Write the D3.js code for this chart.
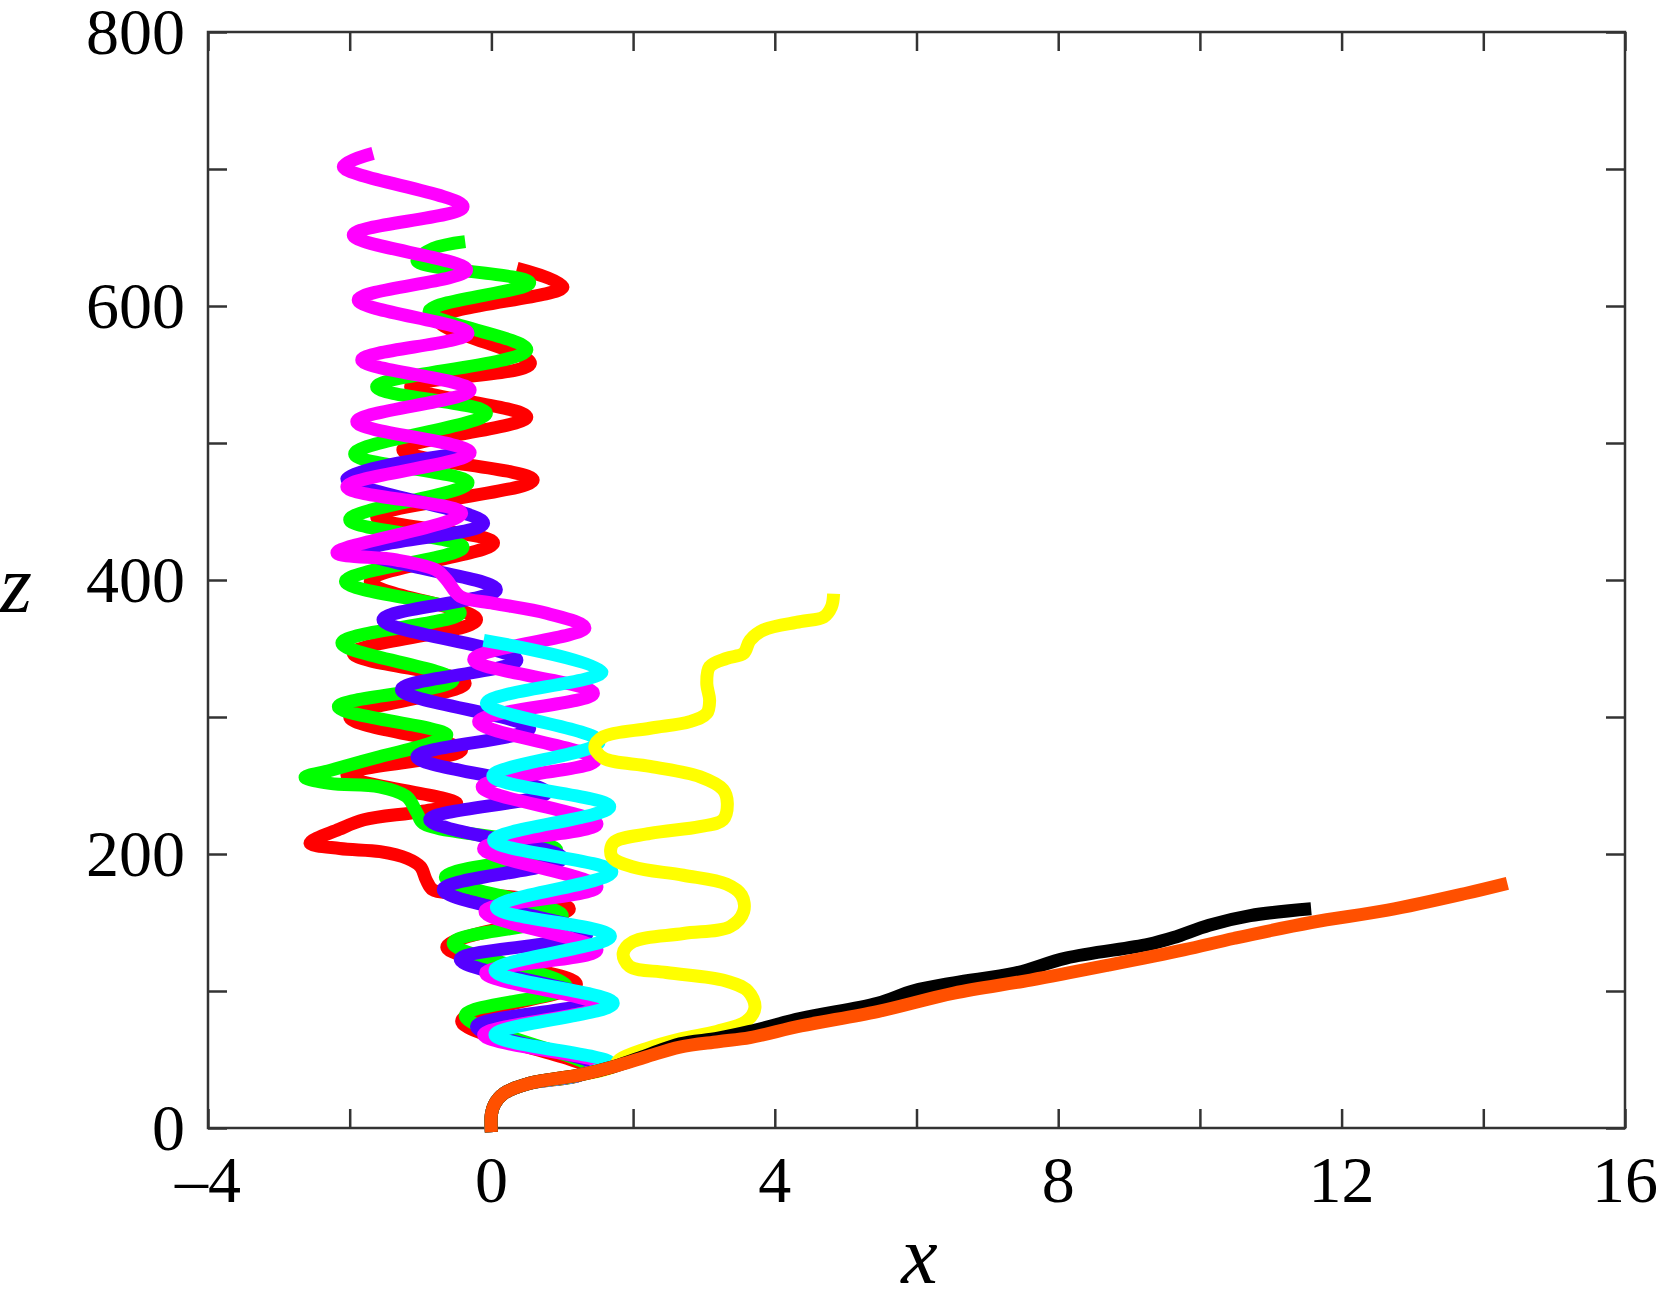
<!DOCTYPE html>
<html><head><meta charset="utf-8">
<script src="https://cdn.jsdelivr.net/npm/d3@7"></script>
<style>html,body{margin:0;padding:0;background:#fff;}svg{display:block;}</style>
</head><body>
<svg id="chart" width="1660" height="1303"></svg>
<script>
// ---- data (x, z) ----
const basePath = [[0,-3],[0,10],[0.04,17],[0.17,25],[0.54,32.6],[1.25,38.7]];

const redPts = [[1.35,44],[-0.42,78],[1.2,105],[-0.63,132],[1.1,160],[0.03,170],[-0.54,171.3],[-0.83,174],[-0.92,181],[-1.0,190.7],[-1.19,196.8],[-1.57,201.7],[-2.14,204],[-2.56,208],[-2.15,218],[-1.8,225],[-1.0,231],[-0.49,237],[-2.04,257.7],[-0.42,276],[-2.0,300],[-0.37,324.6],[-1.95,346.5],[-0.21,371],[-1.71,399],[0.03,427],[-1.62,446],[0.59,473],[-1.25,495],[0.5,519],[-1.14,541],[0.55,558],[-0.75,590],[1.01,614],[0.36,627.5]];

const greenPts = [[1.4,44.5],[-0.37,82],[1.06,103],[-0.54,135],[1.0,155],[-0.65,183],[0.92,203],[-0.96,222.4],[-1.05,230],[-1.2,242],[-1.58,249],[-2.28,251.6],[-2.63,256],[-2.28,261],[-1.58,271],[-0.87,280.7],[-0.63,287],[-2.16,307.5],[-0.54,327],[-2.11,354],[-0.44,376],[-2.06,399],[-0.4,424],[-2.0,444],[-0.33,471],[-1.93,492],[-0.07,521.7],[-1.62,541],[0.5,568],[-0.88,596],[0.54,617],[-1.05,633],[-0.82,642],[-0.37,647]];

const bluePts = [[1.5,45.5],[-0.21,74],[1.44,93.4],[-0.44,123],[1.35,142],[-0.68,174],[1.0,197],[-0.87,225],[0.78,245],[-1.05,271],[0.54,291.7],[-1.27,320],[0.36,341.6],[-1.53,371],[0.07,393],[-1.76,421],[-0.11,441.4],[-2.04,474],[-0.45,492]];

const magentaPts = [[1.6,46.5],[-0.11,68],[1.51,89],[-0.08,113],[1.49,130],[-0.09,158],[1.49,176],[-0.11,204],[1.49,222],[-0.13,249],[1.47,268.6],[-0.18,296.5],[1.44,317.3],[-0.25,342],[1.32,365],[0.78,375.7],[0.03,383],[-0.44,388],[-0.63,400],[-0.77,407],[-1.34,414.6],[-2.18,420],[-0.42,448.7],[-2.04,468],[-0.3,493],[-1.9,515.6],[-0.3,538.7],[-1.83,560.6],[-0.33,580],[-1.88,604.4],[-0.35,626.3],[-1.95,651.8],[-0.4,672.5],[-2.09,701.7],[-1.67,711.4]];

const cyanPts = [[1.68,47.5],[0.05,68],[1.72,91],[0.05,115],[1.68,140],[0.07,161],[1.7,187],[0.03,210],[1.67,234.5],[0.02,257],[1.52,282],[-0.07,310],[1.56,333],[-0.11,356]];

const yellowPts = [[1.72,44.7],[1.81,50],[2.19,58],[2.66,65],[3.18,70.5],[3.6,78],[3.72,88],[3.62,100],[3.3,107.5],[2.47,113.5],[1.95,118],[1.86,127.5],[2.0,136],[2.71,142],[3.37,147],[3.56,158],[3.53,170],[3.32,178],[2.71,184.5],[2.0,190.5],[1.7,198],[1.72,208],[2.24,215],[2.94,220],[3.27,225],[3.33,237],[3.27,247],[2.94,256.5],[2.24,264],[1.58,270],[1.46,278.5],[1.58,285.6],[2.24,291.8],[2.8,296.6],[3.04,302.7],[3.08,312],[3.04,324.6],[3.08,336.7],[3.32,342.8],[3.56,346.5],[3.65,356],[3.84,363.5],[4.36,369.6],[4.69,373],[4.8,380.5],[4.83,390]];

const blackPts = [[1.72,44.7],[2.19,53],[2.66,61.5],[3.2,65.5],[3.65,70.5],[4.37,80],[5.45,91],[5.95,100],[6.53,106],[7.39,113],[8.11,124],[9.27,134],[9.63,139],[10.13,148],[10.71,155],[11.57,160]];

const orangePts = [[1.72,44.7],[2.19,52],[2.66,59],[3.2,63],[3.65,66],[4.37,74.5],[5.45,85],[6.53,98.5],[7.61,108],[8.69,118.7],[9.77,130],[10.49,138.5],[11.57,150],[12.65,159],[13.73,171],[14.34,178.6]];

const seriesNames  = ["red","green","blue","magenta","cyan","yellow","black","orange"];
const seriesColors = ["#ff0000","#00ff00","#5500ff","#ff00ff","#00ffff","#ffff00","#000000","#ff5000"];
const seriesPoints = [redPts,greenPts,bluePts,magentaPts,cyanPts,yellowPts,blackPts,orangePts];

const xTicks = [-4,-2,0,2,4,6,8,10,12,14,16];
const xTickLabels = [[-4,"\u20134"],[0,"0"],[4,"4"],[8,"8"],[12,"12"],[16,"16"]];
const zTicks = [0,100,200,300,400,500,600,700,800];
const zTickLabels = [[0,"0"],[200,"200"],[400,"400"],[600,"600"],[800,"800"]];

// ---- drawing ----
const svg = d3.select("#chart");
const L = 208, R = 1625, T = 32, B = 1128;
const x = d3.scaleLinear().domain([-4,16]).range([L,R]);
const z = d3.scaleLinear().domain([0,800]).range([B,T]);
const tickLen = 19;
const axisColor = "#333";

function styleAxis(g){
  g.select(".domain").remove();
  g.selectAll(".tick line").attr("stroke",axisColor).attr("stroke-width",2.5);
  g.selectAll(".tick text").remove();
}
svg.append("g").attr("transform",`translate(0,${B})`)
  .call(d3.axisBottom(x).tickValues(xTicks).tickSize(-tickLen).tickSizeOuter(0).tickFormat("")).call(styleAxis);
svg.append("g").attr("transform",`translate(0,${T})`)
  .call(d3.axisTop(x).tickValues(xTicks).tickSize(-tickLen).tickSizeOuter(0).tickFormat("")).call(styleAxis);
svg.append("g").attr("transform",`translate(${L},0)`)
  .call(d3.axisLeft(z).tickValues(zTicks).tickSize(-tickLen).tickSizeOuter(0).tickFormat("")).call(styleAxis);
svg.append("g").attr("transform",`translate(${R},0)`)
  .call(d3.axisRight(z).tickValues(zTicks).tickSize(-tickLen).tickSizeOuter(0).tickFormat("")).call(styleAxis);

svg.append("rect").attr("x",L).attr("y",T).attr("width",R-L).attr("height",B-T)
  .attr("fill","none").attr("stroke",axisColor).attr("stroke-width",2.5);

const font = "'Liberation Serif','Times New Roman',serif";
svg.append("g").selectAll("text").data(xTickLabels).join("text")
  .attr("x",d=>x(d[0])).attr("y",B+74).attr("text-anchor","middle")
  .attr("font-family",font).attr("font-size",66).attr("fill","#000").text(d=>d[1]);
svg.append("g").selectAll("text").data(zTickLabels).join("text")
  .attr("x",L-23).attr("y",d=>z(d[0])).attr("dy","0.34em").attr("text-anchor","end")
  .attr("font-family",font).attr("font-size",66).attr("fill","#000").text(d=>d[1]);

svg.append("text").attr("x",(L+R)/2+3).attr("y",1283).attr("text-anchor","middle")
  .attr("font-family",font).attr("font-style","italic").attr("font-size",82).text("x");
svg.append("text").attr("x",16).attr("y",612).attr("text-anchor","middle")
  .attr("font-family",font).attr("font-style","italic").attr("font-size",82).text("z");

const line = d3.line().x(d=>x(d[0])).y(d=>z(d[1])).curve(d3.curveCatmullRom.alpha(0.5));
svg.append("g").selectAll("path").data(seriesPoints).join("path")
  .attr("d",d=>line(basePath.concat(d)))
  .attr("fill","none")
  .attr("stroke",(d,i)=>seriesColors[i])
  .attr("stroke-width",13)
  .attr("stroke-linejoin","round")
  .attr("stroke-linecap","butt");
</script>
</body></html>
